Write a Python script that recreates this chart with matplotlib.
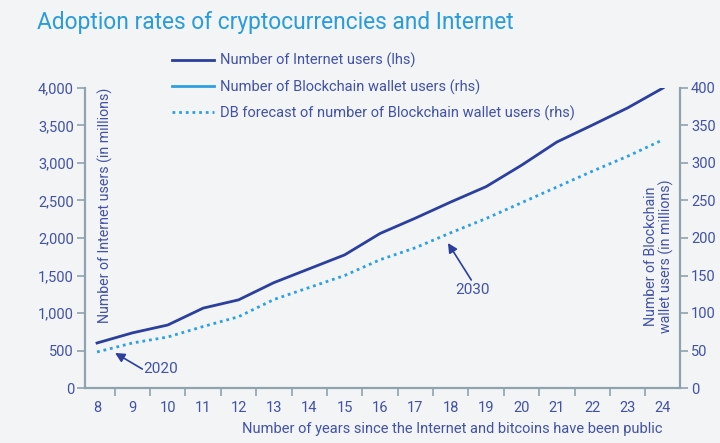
import matplotlib
matplotlib.use("Agg")
import matplotlib.pyplot as plt
from matplotlib.lines import Line2D

years = list(range(8, 25))
internet_users = [600, 735, 840, 1065, 1175, 1405, 1590, 1775, 2060, 2265, 2480, 2685, 2970, 3280, 3505, 3735, 4000]
wallet_actual_years = [8]
wallet_actual = [48]
wallet_forecast = [48, 60, 68, 82, 95, 118, 134, 150, 171, 187, 207, 226, 247, 268, 289, 309, 331]
left_ticks = [0, 500, 1000, 1500, 2000, 2500, 3000, 3500, 4000]
right_ticks = [0, 50, 100, 150, 200, 250, 300, 350, 400]

BG = "#F2F4F5"
DARK = "#2B3F9E"
LIGHT = "#2E9FE0"
TXT = "#4152A8"
SPINE = "#8FA3AD"
TITLE = "#2A9BDC"
FONT = ["Roboto", "DejaVu Sans"]

plt.rcParams['font.family'] = FONT

fig = plt.figure(figsize=(7.2, 4.43), dpi=100, facecolor=BG)
ax = fig.add_axes([85/720, 1-388/443, (680-85)/720, 300/443])
ax.set_facecolor(BG)
ax2 = ax.twinx()

ax.plot(years, internet_users, color=DARK, lw=2)
ax2.plot(years, wallet_forecast, color=LIGHT, lw=2, linestyle=(0, (1, 1.4)))
ax2.plot(wallet_actual_years, wallet_actual, color=LIGHT, lw=2)

ax.set_xlim(7.66, 24.48)
ax.set_ylim(0, 4000)
ax2.set_ylim(0, 400)

ax.set_xticks(years)
ax.set_xticklabels([str(y) for y in years])
ax.set_xticks([y + 0.5 for y in years[:-1]], minor=True)
ax.tick_params(axis='x', which='major', length=0, pad=9, labelsize=10.5, labelcolor=TXT)
ax.tick_params(axis='x', which='minor', length=6, width=1.2, color=SPINE)

ax.set_yticks(left_ticks)
ax.set_yticklabels([f"{v:,}" for v in left_ticks])
ax.tick_params(axis='y', length=6, width=1.2, color=SPINE, labelsize=10.5, labelcolor=TXT, pad=2)
ax2.set_yticks(right_ticks)
ax2.tick_params(axis='y', length=6, width=1.2, color=SPINE, labelsize=10.5, labelcolor=TXT, pad=2)

for a in (ax, ax2):
    a.spines['top'].set_visible(False)
    for s in ('left', 'right', 'bottom'):
        a.spines[s].set_color(SPINE)
        a.spines[s].set_linewidth(1.5)

ax.text(8.03, 4000, "Number of Internet users (in millions)", rotation=90, ha='left', va='top',
        color=TXT, fontsize=10.2)
ax2.text(24.3, 175, "Number of Blockchain\nwallet users (in millions)", rotation=90,
         ha='right', va='center', color=TXT, fontsize=10.2, multialignment='center', linespacing=1.05)

ax.set_xlabel("Number of years since the Internet and bitcoins have been public", color=TXT,
              fontsize=10.5, ha='right')
ax.xaxis.set_label_coords((663 - 85) / (680 - 85), -0.115)

# annotations
ax.annotate("", xy=(8.51, 467), xytext=(9.28, 253),
            arrowprops=dict(arrowstyle='-|>', color=DARK, lw=1.2, mutation_scale=14, shrinkA=0, shrinkB=0))
ax.text(9.3, 253, "2020", color=TXT, fontsize=11, ha='left', va='center')
ax.annotate("", xy=(17.92, 1933), xytext=(18.58, 1440),
            arrowprops=dict(arrowstyle='-|>', color=DARK, lw=1.2, mutation_scale=14, shrinkA=0, shrinkB=0))
ax.text(18.62, 1307, "2030", color=TXT, fontsize=11, ha='center', va='center')

fig.text(37/720, 1-23/443, "Adoption rates of cryptocurrencies and Internet", color=TITLE,
         fontsize=16.4, ha='left', va='center')

handles = [Line2D([], [], color=DARK, lw=2),
           Line2D([], [], color=LIGHT, lw=2),
           Line2D([], [], color=LIGHT, lw=2, linestyle=(0, (1, 1.4)))]
labels = ["Number of Internet users (lhs)", "Number of Blockchain wallet users (rhs)",
          "DB forecast of number of Blockchain wallet users (rhs)"]
leg = fig.legend(handles, labels, loc='upper left', bbox_to_anchor=(172/720, 1-53/443),
                 frameon=False, fontsize=10.5, handlelength=2.9, handletextpad=0.4,
                 labelspacing=0.75, borderaxespad=0, borderpad=0)
for t in leg.get_texts():
    t.set_color(TXT)

fig.savefig("out.png", dpi=100, facecolor=BG)
